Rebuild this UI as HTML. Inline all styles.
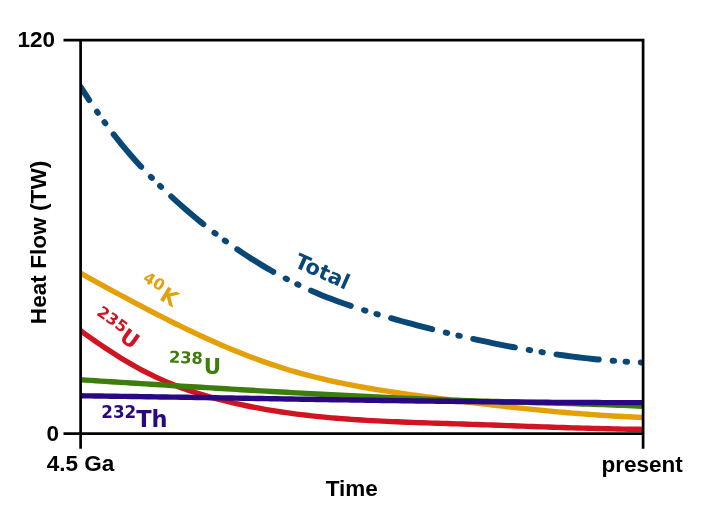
<!DOCTYPE html>
<html><head><meta charset="utf-8"><style>
html,body{margin:0;padding:0;background:#fff;}
svg{display:block;}
.ax{font-family:"Liberation Sans",Arial,sans-serif;font-weight:bold;font-size:22.5px;fill:#000;}
.lb{font-family:"DejaVu Sans",sans-serif;font-weight:bold;font-size:22.5px;}
.sup{font-size:16.5px;}
</style></head><body>
<svg width="706" height="512" viewBox="0 0 706 512">
<rect width="706" height="512" fill="#fff"/>
<defs><clipPath id="c"><rect x="80.6" y="30" width="562.5" height="420"/></clipPath></defs>
<g fill="none" stroke-width="5.4" stroke-linecap="round" stroke-linejoin="round" clip-path="url(#c)">
<path d="M80.60,273.21 L85.62,275.99 L90.64,278.77 L95.67,281.54 L100.69,284.30 L105.71,287.06 L110.73,289.80 L115.76,292.53 L120.78,295.25 L125.80,297.96 L130.82,300.65 L135.85,303.33 L140.87,305.98 L145.89,308.62 L150.91,311.24 L155.93,313.83 L160.96,316.40 L165.98,318.95 L171.00,321.47 L176.02,323.97 L181.05,326.43 L186.07,328.87 L191.09,331.27 L196.11,333.64 L201.14,335.98 L206.16,338.28 L211.18,340.55 L216.20,342.78 L221.22,344.96 L226.25,347.11 L231.27,349.22 L236.29,351.28 L241.31,353.30 L246.34,355.27 L251.36,357.20 L256.38,359.07 L261.40,360.90 L266.43,362.67 L271.45,364.39 L276.47,366.06 L281.49,367.68 L286.52,369.23 L291.54,370.74 L296.56,372.19 L301.58,373.59 L306.60,374.94 L311.63,376.24 L316.65,377.50 L321.67,378.71 L326.69,379.88 L331.72,381.01 L336.74,382.10 L341.76,383.15 L346.78,384.17 L351.81,385.15 L356.83,386.10 L361.85,387.02 L366.87,387.91 L371.89,388.77 L376.92,389.61 L381.94,390.42 L386.96,391.20 L391.98,391.97 L397.01,392.72 L402.03,393.45 L407.05,394.16 L412.07,394.86 L417.10,395.54 L422.12,396.22 L427.14,396.88 L432.16,397.54 L437.18,398.19 L442.21,398.83 L447.23,399.47 L452.25,400.11 L457.27,400.74 L462.30,401.37 L467.32,401.99 L472.34,402.60 L477.36,403.21 L482.39,403.81 L487.41,404.41 L492.43,405.00 L497.45,405.58 L502.48,406.15 L507.50,406.72 L512.52,407.27 L517.54,407.82 L522.56,408.35 L527.59,408.88 L532.61,409.40 L537.63,409.90 L542.65,410.40 L547.68,410.88 L552.70,411.36 L557.72,411.82 L562.74,412.26 L567.77,412.70 L572.79,413.12 L577.81,413.53 L582.83,413.92 L587.85,414.30 L592.88,414.67 L597.90,415.02 L602.92,415.35 L607.94,415.67 L612.97,415.98 L617.99,416.26 L623.01,416.54 L628.03,416.79 L633.06,417.02 L638.08,417.24 L643.10,417.44" stroke="#e3a008"/>
<path d="M80.60,330.74 L85.62,334.36 L90.64,337.92 L95.67,341.43 L100.69,344.87 L105.71,348.25 L110.73,351.55 L115.76,354.78 L120.78,357.92 L125.80,360.96 L130.82,363.92 L135.85,366.77 L140.87,369.52 L145.89,372.16 L150.91,374.69 L155.93,377.10 L160.96,379.41 L165.98,381.61 L171.00,383.70 L176.02,385.70 L181.05,387.60 L186.07,389.42 L191.09,391.15 L196.11,392.80 L201.14,394.37 L206.16,395.87 L211.18,397.30 L216.20,398.67 L221.22,399.97 L226.25,401.23 L231.27,402.43 L236.29,403.58 L241.31,404.68 L246.34,405.74 L251.36,406.75 L256.38,407.72 L261.40,408.65 L266.43,409.54 L271.45,410.39 L276.47,411.19 L281.49,411.96 L286.52,412.70 L291.54,413.39 L296.56,414.06 L301.58,414.69 L306.60,415.28 L311.63,415.85 L316.65,416.39 L321.67,416.89 L326.69,417.37 L331.72,417.83 L336.74,418.25 L341.76,418.66 L346.78,419.04 L351.81,419.40 L356.83,419.74 L361.85,420.05 L366.87,420.35 L371.89,420.64 L376.92,420.90 L381.94,421.15 L386.96,421.39 L391.98,421.61 L397.01,421.82 L402.03,422.03 L407.05,422.22 L412.07,422.40 L417.10,422.58 L422.12,422.75 L427.14,422.91 L432.16,423.08 L437.18,423.23 L442.21,423.39 L447.23,423.55 L452.25,423.71 L457.27,423.87 L462.30,424.03 L467.32,424.20 L472.34,424.36 L477.36,424.54 L482.39,424.71 L487.41,424.89 L492.43,425.07 L497.45,425.24 L502.48,425.42 L507.50,425.61 L512.52,425.79 L517.54,425.97 L522.56,426.15 L527.59,426.33 L532.61,426.51 L537.63,426.68 L542.65,426.86 L547.68,427.03 L552.70,427.20 L557.72,427.37 L562.74,427.53 L567.77,427.69 L572.79,427.84 L577.81,427.99 L582.83,428.14 L587.85,428.28 L592.88,428.42 L597.90,428.54 L602.92,428.67 L607.94,428.78 L612.97,428.89 L617.99,429.00 L623.01,429.09 L628.03,429.18 L633.06,429.25 L638.08,429.32 L643.10,429.38" stroke="#d01422"/>
<path d="M80.60,379.78 L85.62,380.11 L90.64,380.43 L95.67,380.75 L100.69,381.07 L105.71,381.38 L110.73,381.70 L115.76,382.02 L120.78,382.34 L125.80,382.65 L130.82,382.97 L135.85,383.28 L140.87,383.60 L145.89,383.91 L150.91,384.23 L155.93,384.54 L160.96,384.85 L165.98,385.16 L171.00,385.47 L176.02,385.78 L181.05,386.08 L186.07,386.39 L191.09,386.70 L196.11,387.00 L201.14,387.31 L206.16,387.61 L211.18,387.91 L216.20,388.21 L221.22,388.51 L226.25,388.81 L231.27,389.11 L236.29,389.40 L241.31,389.70 L246.34,389.99 L251.36,390.29 L256.38,390.58 L261.40,390.87 L266.43,391.16 L271.45,391.45 L276.47,391.73 L281.49,392.02 L286.52,392.30 L291.54,392.58 L296.56,392.86 L301.58,393.14 L306.60,393.41 L311.63,393.68 L316.65,393.95 L321.67,394.22 L326.69,394.49 L331.72,394.75 L336.74,395.01 L341.76,395.27 L346.78,395.52 L351.81,395.77 L356.83,396.02 L361.85,396.27 L366.87,396.51 L371.89,396.75 L376.92,396.99 L381.94,397.22 L386.96,397.45 L391.98,397.67 L397.01,397.90 L402.03,398.11 L407.05,398.33 L412.07,398.54 L417.10,398.74 L422.12,398.95 L427.14,399.15 L432.16,399.34 L437.18,399.53 L442.21,399.72 L447.23,399.90 L452.25,400.09 L457.27,400.26 L462.30,400.44 L467.32,400.61 L472.34,400.77 L477.36,400.94 L482.39,401.10 L487.41,401.25 L492.43,401.41 L497.45,401.56 L502.48,401.70 L507.50,401.85 L512.52,401.99 L517.54,402.13 L522.56,402.27 L527.59,402.40 L532.61,402.54 L537.63,402.68 L542.65,402.81 L547.68,402.95 L552.70,403.09 L557.72,403.23 L562.74,403.37 L567.77,403.52 L572.79,403.67 L577.81,403.82 L582.83,403.97 L587.85,404.13 L592.88,404.30 L597.90,404.47 L602.92,404.64 L607.94,404.82 L612.97,405.01 L617.99,405.20 L623.01,405.40 L628.03,405.61 L633.06,405.83 L638.08,406.05 L643.10,406.28" stroke="#3c7d0c"/>
<path d="M80.60,395.78 L85.62,395.84 L90.64,395.91 L95.67,395.98 L100.69,396.05 L105.71,396.12 L110.73,396.19 L115.76,396.26 L120.78,396.33 L125.80,396.40 L130.82,396.48 L135.85,396.55 L140.87,396.63 L145.89,396.70 L150.91,396.78 L155.93,396.85 L160.96,396.93 L165.98,397.01 L171.00,397.09 L176.02,397.17 L181.05,397.25 L186.07,397.32 L191.09,397.40 L196.11,397.48 L201.14,397.57 L206.16,397.65 L211.18,397.73 L216.20,397.81 L221.22,397.89 L226.25,397.97 L231.27,398.05 L236.29,398.14 L241.31,398.22 L246.34,398.30 L251.36,398.38 L256.38,398.46 L261.40,398.55 L266.43,398.63 L271.45,398.71 L276.47,398.79 L281.49,398.87 L286.52,398.96 L291.54,399.04 L296.56,399.12 L301.58,399.20 L306.60,399.28 L311.63,399.36 L316.65,399.44 L321.67,399.52 L326.69,399.60 L331.72,399.68 L336.74,399.76 L341.76,399.84 L346.78,399.91 L351.81,399.99 L356.83,400.07 L361.85,400.14 L366.87,400.22 L371.89,400.29 L376.92,400.37 L381.94,400.44 L386.96,400.51 L391.98,400.58 L397.01,400.66 L402.03,400.73 L407.05,400.80 L412.07,400.86 L417.10,400.93 L422.12,401.00 L427.14,401.07 L432.16,401.13 L437.18,401.19 L442.21,401.26 L447.23,401.32 L452.25,401.38 L457.27,401.44 L462.30,401.50 L467.32,401.56 L472.34,401.61 L477.36,401.67 L482.39,401.72 L487.41,401.78 L492.43,401.83 L497.45,401.88 L502.48,401.93 L507.50,401.97 L512.52,402.02 L517.54,402.06 L522.56,402.11 L527.59,402.15 L532.61,402.19 L537.63,402.23 L542.65,402.26 L547.68,402.30 L552.70,402.33 L557.72,402.36 L562.74,402.40 L567.77,402.42 L572.79,402.45 L577.81,402.48 L582.83,402.50 L587.85,402.52 L592.88,402.54 L597.90,402.56 L602.92,402.58 L607.94,402.59 L612.97,402.60 L617.99,402.61 L623.01,402.62 L628.03,402.63 L633.06,402.63 L638.08,402.63 L643.10,402.63" stroke="#2a0882"/>
<path d="M80.60,86.88 L85.62,94.70 L90.64,102.31 L95.67,109.70 L100.69,116.88 L105.71,123.83 L110.73,130.56 L115.76,137.06 L120.78,143.33 L125.80,149.39 L130.82,155.25 L135.85,160.92 L140.87,166.41 L145.89,171.73 L150.91,176.90 L155.93,181.92 L160.96,186.82 L165.98,191.59 L171.00,196.27 L176.02,200.84 L181.05,205.33 L186.07,209.72 L191.09,214.02 L196.11,218.23 L201.14,222.35 L206.16,226.38 L211.18,230.31 L216.20,234.16 L221.22,237.93 L226.25,241.60 L231.27,245.18 L236.29,248.68 L241.31,252.09 L246.34,255.41 L251.36,258.65 L256.38,261.80 L261.40,264.87 L266.43,267.85 L271.45,270.75 L276.47,273.56 L281.49,276.29 L286.52,278.93 L291.54,281.49 L296.56,283.97 L301.58,286.37 L306.60,288.69 L311.63,290.92 L316.65,293.08 L321.67,295.16 L326.69,297.16 L331.72,299.10 L336.74,300.98 L341.76,302.79 L346.78,304.55 L351.81,306.25 L356.83,307.91 L361.85,309.52 L366.87,311.09 L371.89,312.62 L376.92,314.12 L381.94,315.59 L386.96,317.04 L391.98,318.46 L397.01,319.87 L402.03,321.25 L407.05,322.62 L412.07,323.97 L417.10,325.30 L422.12,326.61 L427.14,327.91 L432.16,329.18 L437.18,330.44 L442.21,331.68 L447.23,332.89 L452.25,334.10 L457.27,335.28 L462.30,336.44 L467.32,337.58 L472.34,338.71 L477.36,339.82 L482.39,340.90 L487.41,341.97 L492.43,343.02 L497.45,344.04 L502.48,345.05 L507.50,346.03 L512.52,346.99 L517.54,347.93 L522.56,348.85 L527.59,349.74 L532.61,350.60 L537.63,351.45 L542.65,352.26 L547.68,353.06 L552.70,353.82 L557.72,354.56 L562.74,355.27 L567.77,355.96 L572.79,356.61 L577.81,357.24 L582.83,357.84 L587.85,358.41 L592.88,358.95 L597.90,359.46 L602.92,359.93 L607.94,360.38 L612.97,360.79 L617.99,361.17 L623.01,361.52 L628.03,361.84 L633.06,362.12 L638.08,362.36 L643.10,362.58" stroke="#094876" stroke-dasharray="42.6 13.95 1.5 11.4 1.5 13.77" stroke-dashoffset="26.88" stroke-width="5.9"/>
</g>
<g fill="none" stroke="#000" stroke-width="2.7" stroke-linecap="butt">
<path d="M63.5,40.1 H643.1 V448.8"/>
<path d="M63.5,433.6 H643.1"/>
<path d="M80.6,40.1 V448.8"/>
</g>
<text class="ax" x="17.6" y="47.3">120</text>
<text class="ax" x="46.5" y="441.3">0</text>
<text class="ax" x="46.7" y="470.6">4.5 Ga</text>
<text class="ax" x="601.5" y="471.5">present</text>
<text class="ax" x="325.7" y="496">Time</text>
<text class="ax" transform="translate(45.8,324.2) rotate(-90)" style="font-size:22.65px">Heat Flow (TW)</text>
<text class="lb" fill="#094876" transform="translate(293.3,266.4) rotate(24.1)" style="font-size:21px">Total</text>
<text class="lb" fill="#e3a008" transform="translate(138.2,286.9) rotate(31)" style="font-size:21.3px"><tspan style="font-size:15.6px" dy="-7.6">40</tspan><tspan dx="2" dy="7.6">K</tspan></text>
<text class="lb" fill="#d01422" transform="translate(91.3,320.5) rotate(35.5)" style="font-size:21.6px"><tspan style="font-size:15.8px" dy="-7.7">235</tspan><tspan dy="7.7">U</tspan></text>
<text class="lb" fill="#3c7d0c" transform="translate(168.7,362.5) rotate(2.6)" style="font-size:16.3px">238</text>
<text class="lb" fill="#3c7d0c" x="203.7" y="373.7" style="font-size:21.4px">U</text>
<text class="lb" fill="#2a0882" transform="translate(101.2,426.6)"><tspan style="font-size:16.8px" dy="-8.7">232</tspan><tspan dy="8.7">Th</tspan></text>
</svg>
</body></html>
